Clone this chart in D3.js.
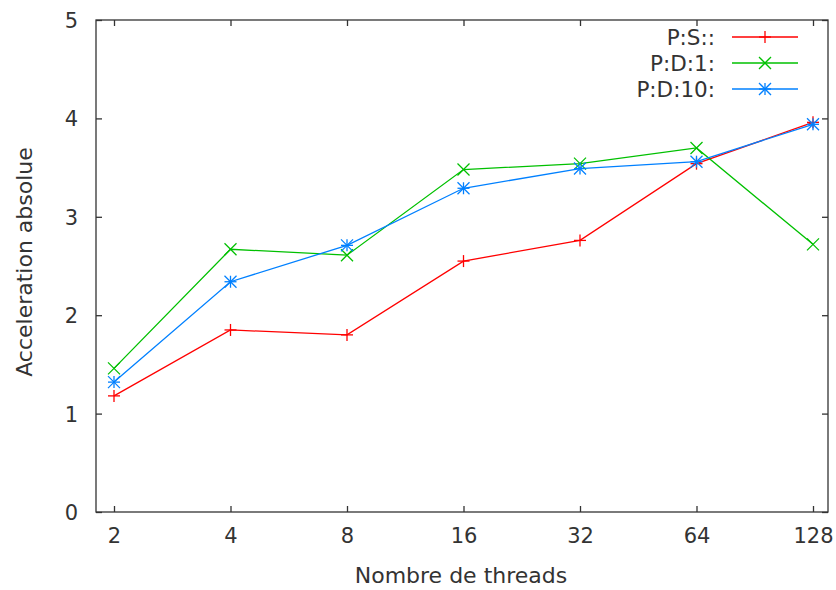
<!DOCTYPE html>
<html>
<head>
<meta charset="utf-8">
<script src="https://cdn.jsdelivr.net/npm/d3@7"></script>
<style>
  body { margin: 0; background: #fff; }
  svg { font-family: 'DejaVu Sans', sans-serif; }
</style>
</head>
<body>
<div id="chart"></div>
<script>
const [WIDTH, HEIGHT] = [836, 590];

const threads = [2, 4, 8, 16, 32, 64, 128];
const yTicks = [0, 1, 2, 3, 4, 5];
const seriesNames = ['P:S::', 'P:D:1:', 'P:D:10:'];
const psValues = [1.18, 1.85, 1.80, 2.55, 2.76, 3.54, 3.96];
const pd1Values = [1.46, 2.67, 2.61, 3.48, 3.54, 3.70, 2.72];
const pd10Values = [1.32, 2.34, 2.71, 3.29, 3.49, 3.56, 3.94];

const SERIES_STYLES = [
    { color: '#ff0000', marker: 'plus' },
    { color: '#00c000', marker: 'cross' },
    { color: '#0080ff', marker: 'star' },
];

const FRAME = { left: 96, right: 828, top: 20, bottom: 512 };
const AXIS_COLOR = '#333';

const svg = d3.select('#chart').append('svg')
    .attr('width', WIDTH)
    .attr('height', HEIGHT);

const x = d3.scaleLog().base(2)
    .domain([2, 128])
    .range([114, 813]);

const y = d3.scaleLinear()
    .domain([0, 5])
    .range([FRAME.bottom, FRAME.top]);

// frame
svg.append('rect')
    .attr('x', FRAME.left)
    .attr('y', FRAME.top)
    .attr('width', FRAME.right - FRAME.left)
    .attr('height', FRAME.bottom - FRAME.top)
    .attr('fill', 'none')
    .attr('stroke', AXIS_COLOR)
    .attr('stroke-width', 1.3);

// bottom / left axes with inward ticks
const xAxis = d3.axisBottom(x).tickValues(threads).tickFormat(d3.format('d'))
    .tickSizeInner(-6).tickSizeOuter(0).tickPadding(16);
const gx = svg.append('g').attr('transform', `translate(0,${FRAME.bottom})`).call(xAxis);

const yAxis = d3.axisLeft(y).tickValues(yTicks).tickFormat(d3.format('d'))
    .tickSizeInner(-6).tickSizeOuter(0).tickPadding(18);
const gy = svg.append('g').attr('transform', `translate(${FRAME.left},0)`).call(yAxis);

// mirrored ticks on top / right
const gxTop = svg.append('g').attr('transform', `translate(0,${FRAME.top})`)
    .call(d3.axisTop(x).tickValues(threads).tickFormat('').tickSizeInner(-6).tickSizeOuter(0));
const gyRight = svg.append('g').attr('transform', `translate(${FRAME.right},0)`)
    .call(d3.axisRight(y).tickValues(yTicks).tickFormat('').tickSizeInner(-6).tickSizeOuter(0));

[gx, gy, gxTop, gyRight].forEach((g) => {
    g.select('.domain').remove();
    g.selectAll('.tick line').attr('stroke', AXIS_COLOR).attr('stroke-width', 1.3);
    g.selectAll('.tick text')
        .attr('fill', AXIS_COLOR)
        .attr('font-size', 21)
        .attr('font-family', 'DejaVu Sans, sans-serif');
});
gx.selectAll('.tick text').attr('dy', '0.72em');
gy.selectAll('.tick text').attr('dy', '0.36em');

// axis titles
svg.append('text')
    .attr('x', 461)
    .attr('y', 583)
    .attr('text-anchor', 'middle')
    .attr('font-size', 22)
    .attr('fill', AXIS_COLOR)
    .text('Nombre de threads');

svg.append('text')
    .attr('transform', 'translate(32,262) rotate(-90)')
    .attr('text-anchor', 'middle')
    .attr('font-size', 22)
    .attr('fill', AXIS_COLOR)
    .text('Acceleration absolue');

function drawMarker(g, type, cx, cy, color) {
    const s = 6;
    const segs = [];
    if (type === 'plus' || type === 'star') {
        segs.push([cx - s, cy, cx + s, cy], [cx, cy - s, cx, cy + s]);
    }
    if (type === 'cross' || type === 'star') {
        segs.push([cx - s, cy - s, cx + s, cy + s], [cx - s, cy + s, cx + s, cy - s]);
    }
    segs.forEach(([x1, y1, x2, y2]) => {
        g.append('line')
            .attr('x1', x1).attr('y1', y1)
            .attr('x2', x2).attr('y2', y2)
            .attr('stroke', color)
            .attr('stroke-width', 1.3);
    });
}

const allValues = [psValues, pd1Values, pd10Values];
const line = d3.line()
    .x((d, i) => x(threads[i]))
    .y((d) => y(d));

allValues.forEach((values, k) => {
    const style = SERIES_STYLES[k];
    const g = svg.append('g').attr('class', 'series');
    g.append('path')
        .datum(values)
        .attr('d', line)
        .attr('fill', 'none')
        .attr('stroke', style.color)
        .attr('stroke-width', 1.3);
    values.forEach((v, i) => drawMarker(g, style.marker, x(threads[i]), y(v), style.color));

    // legend entry
    const ly = 37 + k * 26;
    g.append('text')
        .attr('x', 715)
        .attr('y', ly)
        .attr('dy', '0.36em')
        .attr('text-anchor', 'end')
        .attr('font-size', 21.5)
        .attr('fill', AXIS_COLOR)
        .text(seriesNames[k]);
    g.append('line')
        .attr('x1', 732).attr('x2', 798)
        .attr('y1', ly).attr('y2', ly)
        .attr('stroke', style.color)
        .attr('stroke-width', 1.3);
    drawMarker(g, style.marker, 765, ly, style.color);
});
</script>
</body>
</html>
